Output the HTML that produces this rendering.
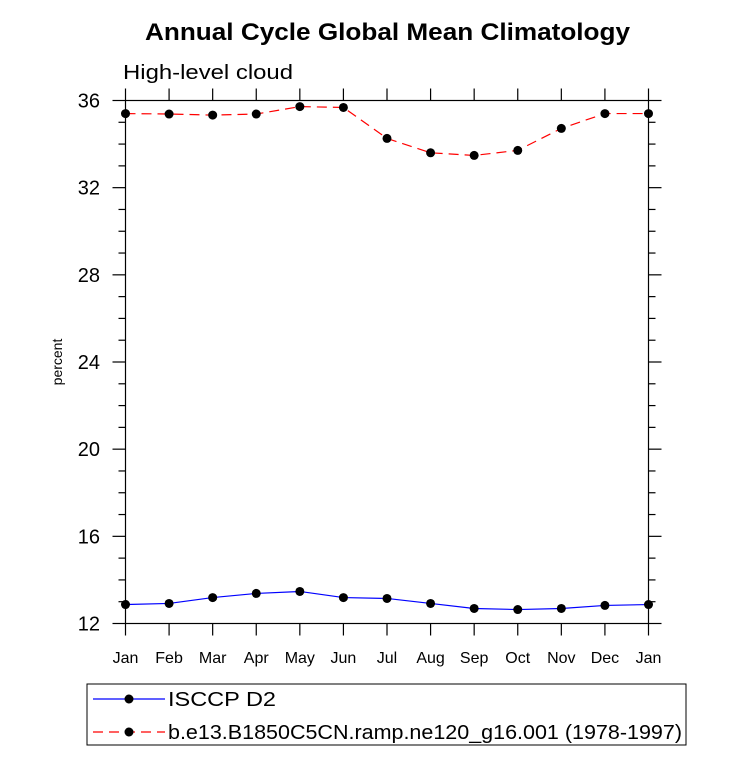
<!DOCTYPE html>
<html><head><meta charset="utf-8"><style>body{margin:0;background:#fff}svg{display:block;font-family:"Liberation Sans",Arial,sans-serif}</style></head>
<body>
<svg id="c" width="733" height="759">
<text x="145" y="40" font-size="24" font-weight="bold" textLength="485" lengthAdjust="spacingAndGlyphs">Annual Cycle Global Mean Climatology</text>
<text x="123" y="79" font-size="20" textLength="170" lengthAdjust="spacingAndGlyphs">High-level cloud</text>
<text transform="translate(62,362) rotate(-90)" text-anchor="middle" font-size="14">percent</text>
<g id="axes"></g><g id="series"></g>
<g>
<rect x="87" y="684" width="599" height="61" fill="none" stroke="#000"/>
<g>
<line x1="93" y1="699" x2="165" y2="699" stroke="#00f" stroke-width="1.2"/><circle cx="129" cy="699" r="4.5"/>
<text x="168" y="706" font-size="20" textLength="108" lengthAdjust="spacingAndGlyphs">ISCCP D2</text></g>
<g>
<line x1="93" y1="732" x2="165" y2="732" stroke="#f00" stroke-width="1.2" stroke-dasharray="10,6"/><circle cx="129" cy="732" r="4.5"/>
<text x="168" y="739" font-size="20" textLength="514" lengthAdjust="spacingAndGlyphs">b.e13.B1850C5CN.ramp.ne120_g16.001 (1978-1997)</text></g>
</g>
</svg>
<script>
const months=["Jan","Feb","Mar","Apr","May","Jun","Jul","Aug","Sep","Oct","Nov","Dec","Jan"];
const obsValues=[12.87,12.92,13.19,13.38,13.47,13.19,13.15,12.92,12.69,12.64,12.69,12.83,12.87];
const modelValues=[35.40,35.38,35.33,35.38,35.72,35.68,34.26,33.60,33.48,33.71,34.72,35.40,35.40];
const yTicks=[12,16,20,24,28,32,36];
const X0=125.5,X1=648.5,Y0=623.5,Y1=100.5,ymin=12,ymax=36;
const sx=i=>X0+(X1-X0)*i/(months.length-1);
const sy=v=>Y0-(Y0-Y1)*(v-ymin)/(ymax-ymin);
const NS="http://www.w3.org/2000/svg";
function mk(p,t,a){const e=document.createElementNS(NS,t);for(const k in a)e.setAttribute(k,a[k]);p.appendChild(e);return e;}
const ax=document.getElementById('axes');
const fr=mk(ax,'rect',{x:X0,y:Y1,width:X1-X0,height:Y0-Y1,fill:'none',stroke:'#000','stroke-width':1.2});


for(let v=ymin;v<=ymax;v++){const maj=yTicks.includes(v);const L=maj?13:7;const y=sy(v);
mk(ax,'line',{x1:X0-L,y1:y,x2:X0,y2:y,stroke:'#000','stroke-width':1.2});
mk(ax,'line',{x1:X1,y1:y,x2:X1+L,y2:y,stroke:'#000','stroke-width':1.2});}
yTicks.forEach(v=>{const t=mk(ax,'text',{x:100,y:sy(v)+7,'text-anchor':'end','font-size':20});t.textContent=v;

});
months.forEach((m,i)=>{const x=sx(i);
mk(ax,'line',{x1:x,y1:Y0,x2:x,y2:Y0+12,stroke:'#000','stroke-width':1.2});
mk(ax,'line',{x1:x,y1:Y1-12,x2:x,y2:Y1,stroke:'#000','stroke-width':1.2});
const t=mk(ax,'text',{x:x,y:663,'text-anchor':'middle','font-size':16});t.textContent=m;

});
const sg=document.getElementById('series');
function draw(vals,color,dash,name){
const g=mk(sg,'g',{});


mk(g,'polyline',{points:vals.map((v,i)=>sx(i)+','+sy(v)).join(' '),fill:'none',stroke:color,'stroke-width':1.2,'stroke-dasharray':dash});
vals.forEach((v,i)=>{const c=mk(g,'circle',{cx:sx(i),cy:sy(v),r:4.5,fill:'#000'});

});}
draw(obsValues,'#00f','none','isccp-series');
draw(modelValues,'#f00','10,6','model-series');
</script>
</body></html>
